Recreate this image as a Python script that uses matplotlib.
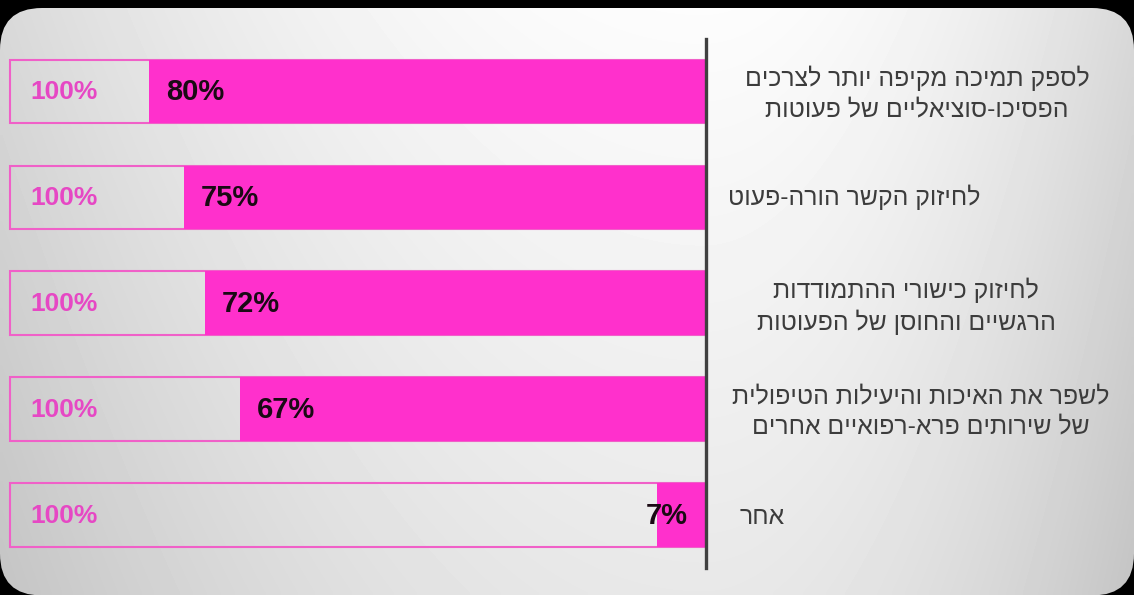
import numpy as np
import matplotlib
matplotlib.use("Agg")
import matplotlib.pyplot as plt
import matplotlib.transforms as mtransforms
from matplotlib.patches import FancyBboxPatch

# data, top to bottom
labels = [
    ["לספק תמיכה מקיפה יותר לצרכים", "הפסיכו-סוציאליים של פעוטות"],
    ["לחיזוק הקשר הורה-פעוט"],
    ["לחיזוק כישורי ההתמודדות", "הרגשיים והחוסן של הפעוטות"],
    ["לשפר את האיכות והיעילות הטיפולית", "של שירותים פרא-רפואיים אחרים"],
    ["אחר"],
]
values = [80, 75, 72, 67, 7]
total = [100, 100, 100, 100, 100]

# layout of the category labels (figure x fraction)
label_x = [917 / 1134, 854 / 1134, 906 / 1134, 921 / 1134, 762 / 1134]

PINK = '#ff30cc'
EDGE = '#f060c8'
TEXT_PINK = '#e648c4'
GRAY = '#3c3c3c'
FONT = 'Liberation Sans'


def visual(line):
    # matplotlib has no bidi support, so flip the Hebrew line for display
    return line[::-1]


fig = plt.figure(figsize=(11.34, 5.95), dpi=100, facecolor='black')

# rounded gray panel with a soft gradient
bg = fig.add_axes([0, 0, 1, 1])
bg.set_xlim(0, 1134)
bg.set_ylim(595, 0)
bg.axis('off')
panel = FancyBboxPatch((0, 8), 1134, 587.5, boxstyle="round,pad=0,rounding_size=42",
                       facecolor='none', edgecolor='none')
bg.add_patch(panel)
gx = np.linspace(0, 1, 240)
gy = np.linspace(0, 1, 120)
X, Y = np.meshgrid(gx, gy)
dx = np.where(X < 0.62, (X - 0.62) / 0.62, (X - 0.62) / 0.38)
shade = 0.99 - 0.14 * dx ** 2 - 0.08 * Y
im = bg.imshow(shade, extent=(0, 1134, 595, 0), cmap='gray', vmin=0, vmax=1,
               aspect='auto', interpolation='bilinear')
im.set_clip_path(panel)

# bar axes
ax = fig.add_axes([10 / 1134, 1 - 568 / 595, 696 / 1134, (568 - 38.5) / 595])
ax.patch.set_visible(False)
ypos = np.arange(len(values))
ax.barh(ypos, total, height=0.6, fill=False, edgecolor=EDGE, linewidth=1.5, clip_on=False)
ax.barh(ypos, values, height=0.6, color=PINK, edgecolor=PINK, linewidth=0, clip_on=False)
ax.set_xlim(100, 0)
ax.set_ylim(len(values) - 0.5, -0.5)

for s in ['top', 'bottom', 'left']:
    ax.spines[s].set_visible(False)
ax.spines['right'].set_color('#404040')
ax.spines['right'].set_linewidth(2.4)
ax.set_xticks([])
ax.set_yticks([])

for i, (t, v) in enumerate(zip(total, values)):
    ax.annotate(f"{t}%", xy=(t, i), xytext=(20, -1), textcoords='offset pixels',
                ha='left', va='center', fontsize=19, fontweight='bold',
                color=TEXT_PINK, family=FONT)
    if v < 20:
        ax.annotate(f"{v}%", xy=(0, i), xytext=(-18, -1), textcoords='offset pixels',
                    ha='right', va='center', fontsize=21, fontweight='bold',
                    color='#1a0a14', family=FONT)
    else:
        ax.annotate(f"{v}%", xy=(v, i), xytext=(17, -1), textcoords='offset pixels',
                    ha='left', va='center', fontsize=21, fontweight='bold',
                    color='#1a0a14', family=FONT)

trans = mtransforms.blended_transform_factory(fig.transFigure, ax.transData)
label_dy = [0.02, 0.0, 0.03, 0.02, 0.02]
for i, lines in enumerate(labels):
    txt = "\n".join(visual(l) for l in lines)
    ax.text(label_x[i], i + label_dy[i], txt, transform=trans, ha='center', va='center',
            multialignment='center', fontsize=17.8, color=GRAY, family=FONT,
            linespacing=1.32)

fig.savefig('out.png', dpi=100, facecolor='black')
